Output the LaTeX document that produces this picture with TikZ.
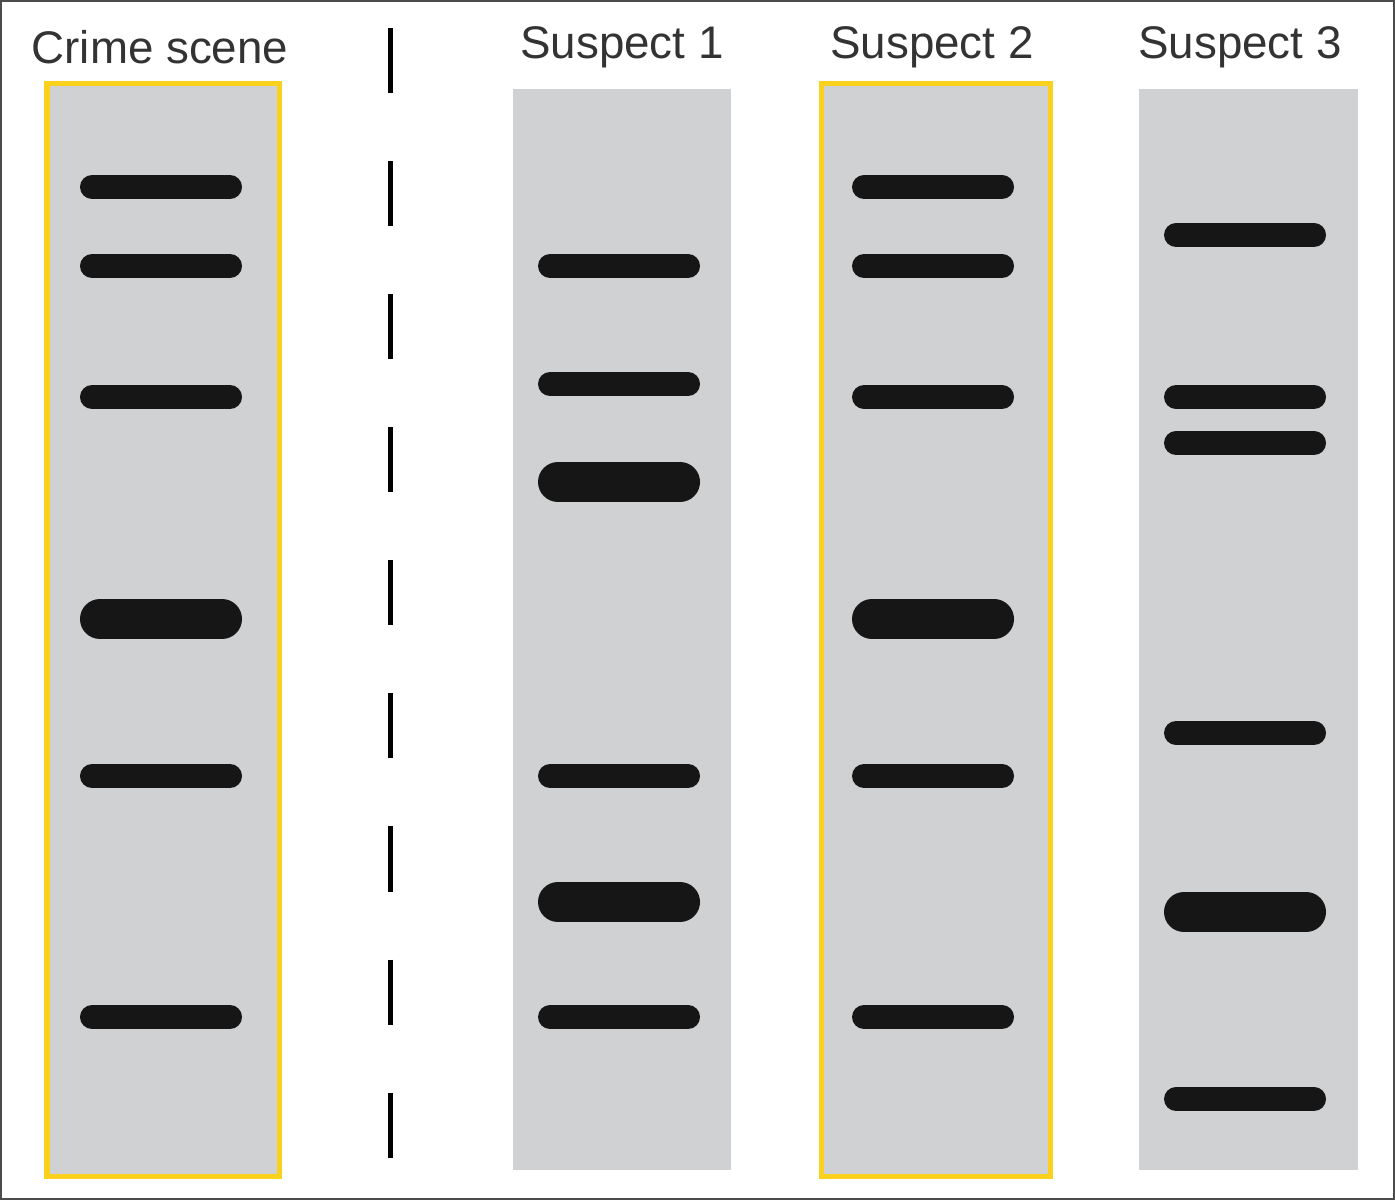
\documentclass[tikz,border=0pt]{standalone}
\usepackage{fontspec}
\setmainfont{Liberation Sans}
\definecolor{gel}{RGB}{208,209,211}
\definecolor{gold}{RGB}{250,210,30}
\definecolor{band}{RGB}{22,22,22}
\begin{document}
\begin{tikzpicture}[x=0.01cm,y=-0.01cm,
  lane/.style={fill=gel,draw=none},
  hilite/.style={fill=gel,draw=gold,line width=0.05cm},
  thinband/.style={draw=band,line width=0.24cm,line cap=round},
  thickband/.style={draw=band,line width=0.40cm,line cap=round},
  lbl/.style={font=\fontsize{13}{15}\selectfont,text=black!80}]
\useasboundingbox (0,0) rectangle (1395,1200);
\draw[black!70,line width=0.02cm] (1,1) rectangle (1394,1199);
\draw[hilite] (47,83) rectangle (279,1176);
\fill[gel] (513,89) rectangle (731,1170);
\draw[hilite] (821,83) rectangle (1050,1176);
\fill[gel] (1139,89) rectangle (1358,1170);
\node[lbl] (l0) at (160,47) {Crime scene};
\node[lbl] (l1) at (622,47) {Suspect 1};
\node[lbl] (l2) at (932,47) {Suspect 2};
\node[lbl] (l3) at (1240,47) {Suspect 3};
\draw[black,line width=0.05cm,dash pattern=on 0.65cm off 0.68cm] (390,28) -- (390,1160);
\foreach \y in {187,266,397,776,1017} \draw[thinband] (92,\y) -- (230,\y);
\draw[thickband] (100,619) -- (222,619);
\foreach \y in {266,384,776,1017} \draw[thinband] (550,\y) -- (688,\y);
\foreach \y in {482,902} \draw[thickband] (558,\y) -- (680,\y);
\foreach \y in {187,266,397,776,1017} \draw[thinband] (864,\y) -- (1002,\y);
\draw[thickband] (872,619) -- (994,619);
\foreach \y in {235,397,443,733,1099} \draw[thinband] (1176,\y) -- (1314,\y);
\draw[thickband] (1184,912) -- (1306,912);
\end{tikzpicture}
\end{document}
